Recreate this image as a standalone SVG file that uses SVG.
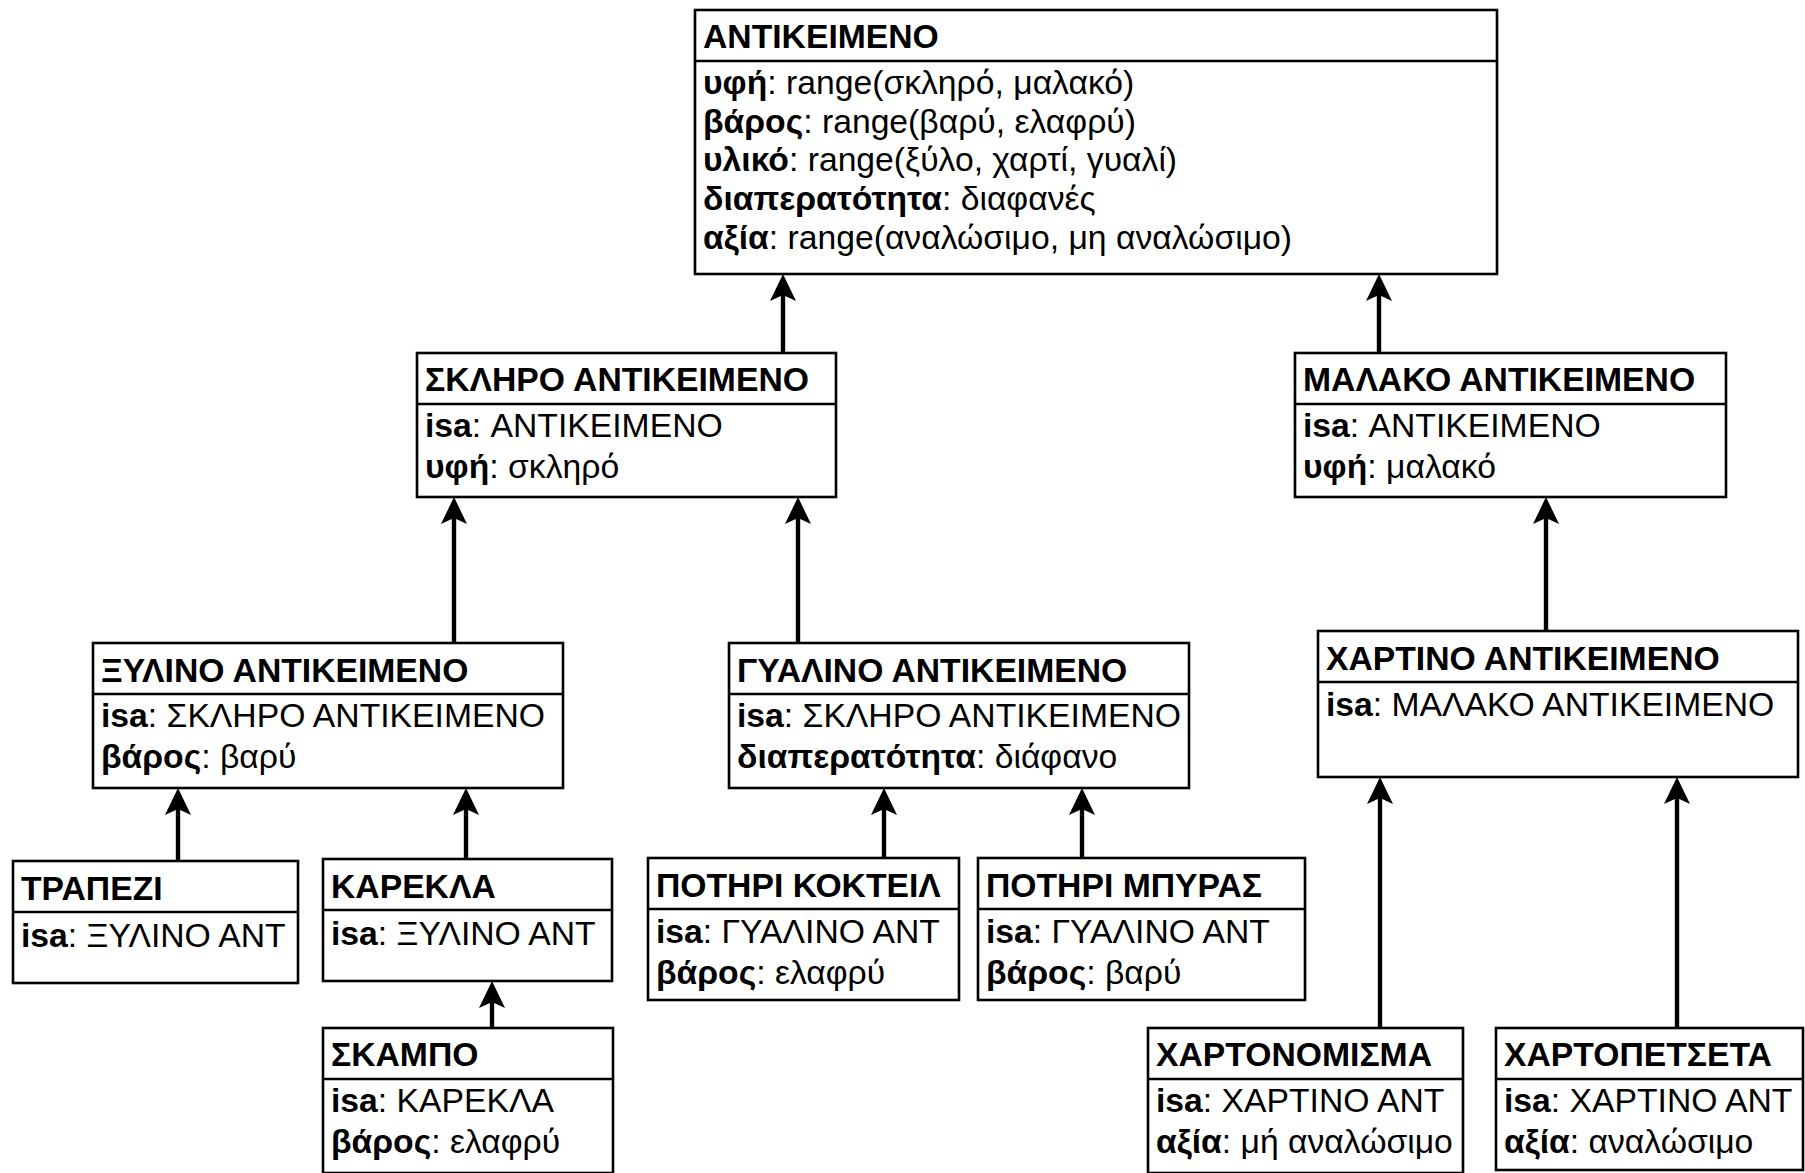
<svg xmlns="http://www.w3.org/2000/svg" width="1805" height="1173" viewBox="0 0 1805 1173">
  <style>
    .box { fill: #ffffff; stroke: #000000; stroke-width: 2.6; }
    .sep { stroke: #000000; stroke-width: 2.6; }
    text { font-family: "Liberation Sans", Arial, sans-serif; font-size: 33.7px; fill: #000000; }
    .t { font-weight: bold; }
    .k { font-weight: bold; }
    .edge { stroke: #000000; stroke-width: 4.4; fill: none; marker-end: url(#arr); }
  </style>
  <defs>
    <marker id="arr" markerUnits="userSpaceOnUse" viewBox="0 -14 27 28" markerWidth="27" markerHeight="28" refX="6" refY="0" orient="auto">
      <path d="M27,0 L0,-13 L6,0 L0,13 Z" fill="#000000"/>
    </marker>
  </defs>

  <rect width="1805" height="1173" fill="#ffffff"/>

  <!-- isa connectors: child top edge up to parent bottom edge -->
  <g id="connectors">
    <line class="edge" x1="783" y1="353" x2="783" y2="295"/>
    <line class="edge" x1="1379" y1="353" x2="1379" y2="295"/>
    <line class="edge" x1="454" y1="643" x2="454" y2="518"/>
    <line class="edge" x1="798" y1="643" x2="798" y2="518"/>
    <line class="edge" x1="1546" y1="631" x2="1546" y2="518"/>
    <line class="edge" x1="178" y1="861" x2="178" y2="809"/>
    <line class="edge" x1="466" y1="859" x2="466" y2="809"/>
    <line class="edge" x1="492" y1="1028" x2="492" y2="1002"/>
    <line class="edge" x1="884" y1="858" x2="884" y2="809"/>
    <line class="edge" x1="1082" y1="858" x2="1082" y2="809"/>
    <line class="edge" x1="1380" y1="1028" x2="1380" y2="798"/>
    <line class="edge" x1="1677" y1="1028" x2="1677" y2="798"/>
  </g>

  <g id="antikeimeno">
    <rect class="box" x="695" y="10" width="802" height="264"/>
    <line class="sep" x1="695" y1="61" x2="1497" y2="61"/>
    <text class="t" x="703" y="48">ΑΝΤΙΚΕΙΜΕΝΟ</text>
    <text x="703" y="94"><tspan class="k">υφή</tspan>: range(σκληρό, μαλακό)</text>
    <text x="703" y="133"><tspan class="k">βάρος</tspan>: range(βαρύ, ελαφρύ)</text>
    <text x="703" y="171"><tspan class="k">υλικό</tspan>: range(ξύλο, χαρτί, γυαλί)</text>
    <text x="703" y="210"><tspan class="k">διαπερατότητα</tspan>: διαφανές</text>
    <text x="703" y="249"><tspan class="k">αξία</tspan>: range(αναλώσιμο, μη αναλώσιμο)</text>
  </g>

  <g id="skliro">
    <rect class="box" x="417" y="353" width="419" height="144"/>
    <line class="sep" x1="417" y1="404" x2="836" y2="404"/>
    <text class="t" x="425" y="391">ΣΚΛΗΡΟ ΑΝΤΙΚΕΙΜΕΝΟ</text>
    <text x="425" y="437"><tspan class="k">isa</tspan>: ΑΝΤΙΚΕΙΜΕΝΟ</text>
    <text x="425" y="478"><tspan class="k">υφή</tspan>: σκληρό</text>
  </g>

  <g id="malako">
    <rect class="box" x="1295" y="353" width="431" height="144"/>
    <line class="sep" x1="1295" y1="404" x2="1726" y2="404"/>
    <text class="t" x="1303" y="391">ΜΑΛΑΚΟ ΑΝΤΙΚΕΙΜΕΝΟ</text>
    <text x="1303" y="437"><tspan class="k">isa</tspan>: ΑΝΤΙΚΕΙΜΕΝΟ</text>
    <text x="1303" y="478"><tspan class="k">υφή</tspan>: μαλακό</text>
  </g>

  <g id="xylino">
    <rect class="box" x="93" y="643" width="470" height="145"/>
    <line class="sep" x1="93" y1="694" x2="563" y2="694"/>
    <text class="t" x="101" y="682">ΞΥΛΙΝΟ ΑΝΤΙΚΕΙΜΕΝΟ</text>
    <text x="101" y="727"><tspan class="k">isa</tspan>: ΣΚΛΗΡΟ ΑΝΤΙΚΕΙΜΕΝΟ</text>
    <text x="101" y="768"><tspan class="k">βάρος</tspan>: βαρύ</text>
  </g>

  <g id="gyalino">
    <rect class="box" x="729" y="643" width="460" height="145"/>
    <line class="sep" x1="729" y1="694" x2="1189" y2="694"/>
    <text class="t" x="737" y="682">ΓΥΑΛΙΝΟ ΑΝΤΙΚΕΙΜΕΝΟ</text>
    <text x="737" y="727"><tspan class="k">isa</tspan>: ΣΚΛΗΡΟ ΑΝΤΙΚΕΙΜΕΝΟ</text>
    <text x="737" y="768"><tspan class="k">διαπερατότητα</tspan>: διάφανο</text>
  </g>

  <g id="xartino">
    <rect class="box" x="1318" y="631" width="480" height="146"/>
    <line class="sep" x1="1318" y1="682" x2="1798" y2="682"/>
    <text class="t" x="1326" y="670">ΧΑΡΤΙΝΟ ΑΝΤΙΚΕΙΜΕΝΟ</text>
    <text x="1326" y="716"><tspan class="k">isa</tspan>: ΜΑΛΑΚΟ ΑΝΤΙΚΕΙΜΕΝΟ</text>
  </g>

  <g id="trapezi">
    <rect class="box" x="13" y="861" width="285" height="122"/>
    <line class="sep" x1="13" y1="912" x2="298" y2="912"/>
    <text class="t" x="21" y="900">ΤΡΑΠΕΖΙ</text>
    <text x="21" y="947"><tspan class="k">isa</tspan>: ΞΥΛΙΝΟ ΑΝΤ</text>
  </g>

  <g id="karekla">
    <rect class="box" x="323" y="859" width="289" height="122"/>
    <line class="sep" x1="323" y1="910" x2="612" y2="910"/>
    <text class="t" x="331" y="898">ΚΑΡΕΚΛΑ</text>
    <text x="331" y="945"><tspan class="k">isa</tspan>: ΞΥΛΙΝΟ ΑΝΤ</text>
  </g>

  <g id="skampo">
    <rect class="box" x="323" y="1028" width="290" height="145"/>
    <line class="sep" x1="323" y1="1079" x2="613" y2="1079"/>
    <text class="t" x="331" y="1066">ΣΚΑΜΠΟ</text>
    <text x="331" y="1112"><tspan class="k">isa</tspan>: ΚΑΡΕΚΛΑ</text>
    <text x="331" y="1153"><tspan class="k">βάρος</tspan>: ελαφρύ</text>
  </g>

  <g id="potiri-kokteil">
    <rect class="box" x="648" y="858" width="311" height="142"/>
    <line class="sep" x1="648" y1="909" x2="959" y2="909"/>
    <text class="t" x="656" y="897">ΠΟΤΗΡΙ ΚΟΚΤΕΙΛ</text>
    <text x="656" y="943"><tspan class="k">isa</tspan>: ΓΥΑΛΙΝΟ ΑΝΤ</text>
    <text x="656" y="984"><tspan class="k">βάρος</tspan>: ελαφρύ</text>
  </g>

  <g id="potiri-mpyras">
    <rect class="box" x="978" y="858" width="327" height="142"/>
    <line class="sep" x1="978" y1="909" x2="1305" y2="909"/>
    <text class="t" x="986" y="897">ΠΟΤΗΡΙ ΜΠΥΡΑΣ</text>
    <text x="986" y="943"><tspan class="k">isa</tspan>: ΓΥΑΛΙΝΟ ΑΝΤ</text>
    <text x="986" y="984"><tspan class="k">βάρος</tspan>: βαρύ</text>
  </g>

  <g id="xartonomisma">
    <rect class="box" x="1148" y="1028" width="315" height="145"/>
    <line class="sep" x1="1148" y1="1079" x2="1463" y2="1079"/>
    <text class="t" x="1156" y="1066">ΧΑΡΤΟΝΟΜΙΣΜΑ</text>
    <text x="1156" y="1112"><tspan class="k">isa</tspan>: ΧΑΡΤΙΝΟ ΑΝΤ</text>
    <text x="1156" y="1153"><tspan class="k">αξία</tspan>: μή αναλώσιμο</text>
  </g>

  <g id="xartopetseta">
    <rect class="box" x="1496" y="1028" width="307" height="142"/>
    <line class="sep" x1="1496" y1="1079" x2="1803" y2="1079"/>
    <text class="t" x="1504" y="1066">ΧΑΡΤΟΠΕΤΣΕΤΑ</text>
    <text x="1504" y="1112"><tspan class="k">isa</tspan>: ΧΑΡΤΙΝΟ ΑΝΤ</text>
    <text x="1504" y="1153"><tspan class="k">αξία</tspan>: αναλώσιμο</text>
  </g>
</svg>
